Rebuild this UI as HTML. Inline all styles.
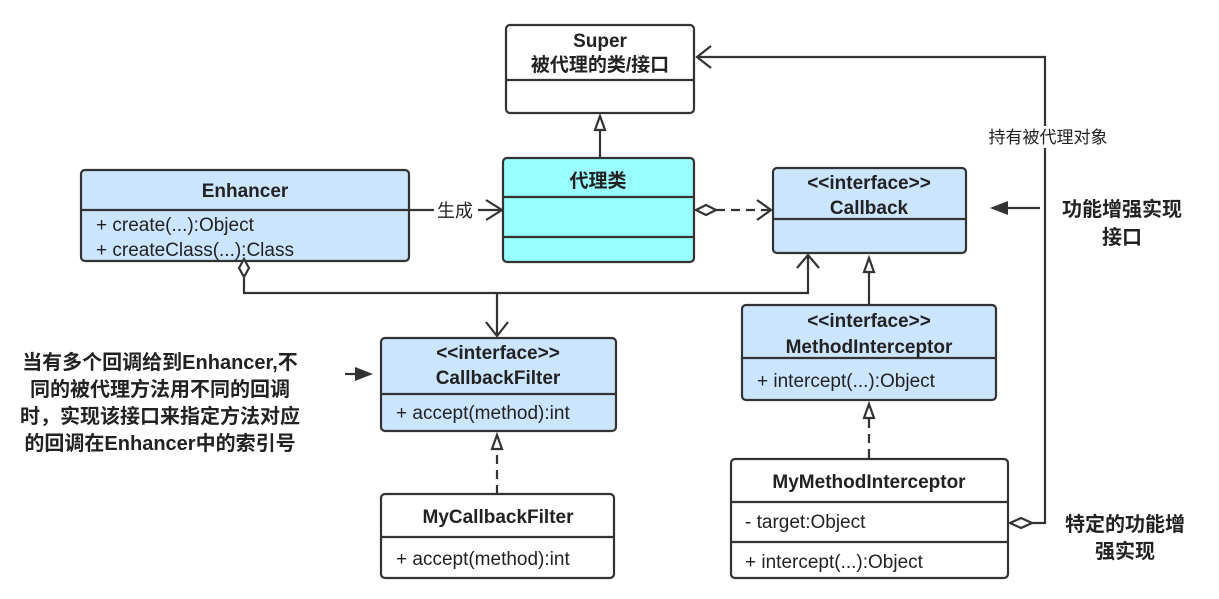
<!DOCTYPE html>
<html><head><meta charset="utf-8"><style>
body{margin:0;background:#fff;}
svg text{font-family:"Liberation Sans","Noto Sans CJK SC",sans-serif;fill:#222;}
.b{font-weight:bold;}
</style></head><body>
<svg width="1219" height="594" viewBox="0 0 1219 594" xmlns="http://www.w3.org/2000/svg">
<g stroke="#333" stroke-width="2.2" fill="none">
<rect x="506" y="25" width="188" height="88" rx="4" fill="#fff"/>
<line x1="506" y1="80" x2="694" y2="80"/>
<rect x="503" y="158" width="191" height="104" rx="4" fill="#99ffff"/>
<line x1="503" y1="197" x2="694" y2="197"/><line x1="503" y1="237" x2="694" y2="237"/>
<rect x="81" y="170" width="328" height="91" rx="4" fill="#cce5ff"/>
<line x1="81" y1="210" x2="409" y2="210"/>
<rect x="773" y="168" width="193" height="85" rx="4" fill="#cce5ff"/>
<line x1="773" y1="219" x2="966" y2="219"/>
<rect x="742" y="305" width="254" height="95" rx="4" fill="#cce5ff"/>
<line x1="742" y1="358" x2="996" y2="358"/>
<rect x="731" y="459" width="277" height="119" rx="4" fill="#fff"/>
<line x1="731" y1="502" x2="1008" y2="502"/><line x1="731" y1="542" x2="1008" y2="542"/>
<rect x="381" y="338" width="235" height="93" rx="4" fill="#cce5ff"/>
<line x1="381" y1="394" x2="616" y2="394"/>
<rect x="381" y="494" width="233" height="84" rx="4" fill="#fff"/>
<line x1="381" y1="537" x2="614" y2="537"/>

<path d="M244 278 V293 H808 V256"/>
<path d="M797 268 L808 255 L819 268"/>
<path d="M497 293 V336"/>
<path d="M486 322 L497 336 L508 322"/>
<path d="M239 268 L244 259 L249 268 L244 277 Z" fill="#fff"/>
<path d="M409 210 H434 M478 210 H502"/>
<path d="M486 200 L502 210 L486 220"/>
<path d="M600 158 V128"/>
<path d="M595 130 L600 116 L605 130 Z" fill="#fff"/>
<path d="M696 210 L706 205 L716 210 L706 215 Z" fill="#fff"/>
<path d="M716 210 H771" stroke-dasharray="9 6"/>
<path d="M757 200 L771 210 L757 220"/>
<path d="M869 305 V270"/>
<path d="M864 272 L869 258 L874 272 Z" fill="#fff"/>
<path d="M869 458 V418" stroke-dasharray="9 6"/>
<path d="M864 418 L869 404 L874 418 Z" fill="#fff"/>
<path d="M497 494 V450" stroke-dasharray="9 6"/>
<path d="M492 449 L497 435 L502 449 Z" fill="#fff"/>
<path d="M1010 523 L1021 518 L1032 523 L1021 528 Z" fill="#fff"/>
<path d="M1032 523 H1045 V57 H697"/>
<path d="M711 46 L697 57 L711 68"/>
<path d="M1040 208 H1005"/>
<path d="M345 374 H358"/>
</g>
<path d="M990 208 L1008 201 L1008 215 Z" fill="#333"/>
<path d="M373 374 L355 367 L355 381 Z" fill="#333"/>
<rect x="975" y="126" width="145" height="22" fill="#fff"/>
<text x="1048" y="143" font-size="17" text-anchor="middle">持有被代理对象</text>
<text x="455" y="217" font-size="18" text-anchor="middle">生成</text>

<g font-size="19">
<text x="600" y="47" class="b" text-anchor="middle">Super</text>
<text x="600" y="71" class="b" text-anchor="middle">被代理的类/接口</text>
<text x="598" y="187" class="b" text-anchor="middle">代理类</text>
<text x="245" y="197" class="b" text-anchor="middle">Enhancer</text>
<text x="96" y="231">+ create(...):Object</text>
<text x="96" y="256">+ createClass(...):Class</text>
<text x="869" y="189" class="b" text-anchor="middle">&lt;&lt;interface&gt;&gt;</text>
<text x="869" y="214" class="b" text-anchor="middle">Callback</text>
<text x="869" y="327" class="b" text-anchor="middle">&lt;&lt;interface&gt;&gt;</text>
<text x="869" y="353" class="b" text-anchor="middle">MethodInterceptor</text>
<text x="757" y="387">+ intercept(...):Object</text>
<text x="869" y="488" class="b" text-anchor="middle">MyMethodInterceptor</text>
<text x="745" y="528">- target:Object</text>
<text x="745" y="568">+ intercept(...):Object</text>
<text x="498" y="359" class="b" text-anchor="middle">&lt;&lt;interface&gt;&gt;</text>
<text x="498" y="384" class="b" text-anchor="middle">CallbackFilter</text>
<text x="396" y="419">+ accept(method):int</text>
<text x="498" y="523" class="b" text-anchor="middle">MyCallbackFilter</text>
<text x="396" y="565">+ accept(method):int</text>
</g>

<g font-size="20" class="b" text-anchor="middle">
<text x="160" y="369" class="b">当有多个回调给到Enhancer,不</text>
<text x="160" y="396" class="b">同的被代理方法用不同的回调</text>
<text x="160" y="423" class="b">时，实现该接口来指定方法对应</text>
<text x="160" y="450" class="b">的回调在Enhancer中的索引号</text>
<text x="1122" y="216" class="b">功能增强实现</text>
<text x="1122" y="244" class="b">接口</text>
<text x="1125" y="531" class="b">特定的功能增</text>
<text x="1125" y="558" class="b">强实现</text>
</g>
</svg>
</body></html>
